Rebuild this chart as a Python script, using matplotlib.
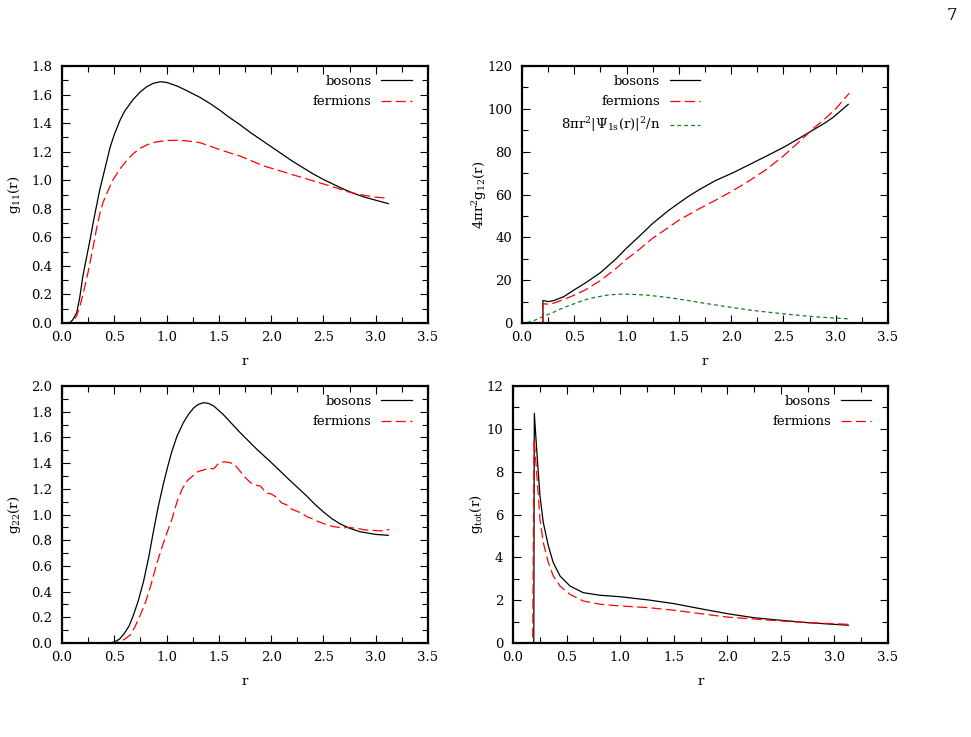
import matplotlib
matplotlib.use("Agg")
import matplotlib.pyplot as plt
from matplotlib.ticker import MultipleLocator, FormatStrFormatter

plt.rcParams['font.family'] = ['DejaVu Serif']
plt.rcParams['mathtext.fontset'] = 'custom'
plt.rcParams['mathtext.rm'] = 'DejaVu Serif'
plt.rcParams['mathtext.it'] = 'DejaVu Serif'
plt.rcParams['font.size'] = 9.5

# ---------------- data ----------------
# Panel 1: g11(r)
r11b = [0.0, 0.07, 0.1, 0.14, 0.17, 0.2, 0.235, 0.27, 0.3, 0.33, 0.36, 0.4, 0.43, 0.46, 0.5,
        0.555, 0.6, 0.68, 0.75, 0.81, 0.87, 0.94, 1.0, 1.1, 1.2, 1.32, 1.42, 1.51, 1.6, 1.7,
        1.8, 1.9, 2.0, 2.1, 2.2, 2.3, 2.4, 2.5, 2.6, 2.7, 2.8, 2.9, 3.0, 3.12]
g11_bos = [0.0, 0.0, 0.02, 0.07, 0.18, 0.33, 0.46, 0.59, 0.71, 0.82, 0.93, 1.05, 1.14, 1.23,
           1.32, 1.42, 1.485, 1.565, 1.62, 1.655, 1.678, 1.69, 1.685, 1.66, 1.625, 1.58, 1.535,
           1.49, 1.44, 1.39, 1.335, 1.285, 1.235, 1.185, 1.135, 1.09, 1.045, 1.005, 0.97,
           0.935, 0.905, 0.88, 0.86, 0.836]
r11f = [0.0, 0.07, 0.108, 0.14, 0.172, 0.2, 0.236, 0.27, 0.30, 0.33, 0.363, 0.395, 0.427, 0.46,
        0.49, 0.55, 0.62, 0.68, 0.75, 0.82, 0.9, 1.0, 1.1, 1.2, 1.32, 1.5, 1.61, 1.7, 1.93,
        2.245, 2.563, 2.754, 2.9, 3.0, 3.12]
g11_fer = [0.0, 0.0, 0.014, 0.05, 0.12, 0.2, 0.31, 0.43, 0.54, 0.66, 0.77, 0.85, 0.905, 0.96,
           1.005, 1.075, 1.14, 1.185, 1.225, 1.25, 1.268, 1.278, 1.28, 1.275, 1.263, 1.217,
           1.19, 1.17, 1.10, 1.03, 0.96, 0.915, 0.893, 0.882, 0.873]

# Panel 2: 4 pi r^2 g12(r)
r12b = [0.2, 0.2, 0.25, 0.3, 0.4, 0.5, 0.6, 0.75, 0.9, 1.0, 1.1, 1.25, 1.4, 1.5, 1.6, 1.7,
        1.85, 2.02, 2.34, 2.5, 2.66, 2.79, 2.9, 2.98, 3.12]
g12_bos = [0, 10.5, 10.0, 10.4, 12.3, 15.5, 18.5, 23.5, 30.0, 35.0, 39.5, 46.5, 52.5, 56.0,
           59.4, 62.4, 66.5, 70.2, 78.0, 82.0, 86.5, 90.3, 93.5, 96.2, 102.1]
r12f = [0.2, 0.2, 0.25, 0.3, 0.4, 0.5, 0.6, 0.75, 0.9, 1.0, 1.1, 1.25, 1.4, 1.5, 1.7, 1.85,
        2.0, 2.17, 2.34, 2.5, 2.66, 2.79, 2.9, 3.0, 3.13]
g12_fer = [0, 9.0, 8.8, 9.2, 11.0, 13.0, 15.3, 19.8, 25.5, 29.8, 33.5, 39.6, 44.6, 48.0, 53.5,
           57.3, 61.3, 66.3, 71.8, 78.0, 85.0, 91.0, 95.5, 100.0, 107.3]
r1s = [0.05, 0.1, 0.2, 0.3, 0.4, 0.5, 0.6, 0.7, 0.8, 0.9, 1.0, 1.2, 1.4, 1.6, 1.8, 2.0, 2.2,
       2.4, 2.6, 2.8, 3.0, 3.13]
psi1s = [0.2, 0.8, 3.0, 5.0, 7.2, 9.0, 10.8, 12.0, 12.9, 13.4, 13.5, 13.0, 11.9, 10.4, 8.8, 7.3,
         5.9, 4.8, 3.8, 2.9, 2.3, 1.9]

# Panel 3: g22(r)
r22b = [0.3, 0.45, 0.5, 0.55, 0.59, 0.64, 0.68, 0.73, 0.78, 0.83, 0.87, 0.92, 0.97, 1.01,
        1.05, 1.1, 1.16, 1.21, 1.26, 1.3, 1.35, 1.4, 1.45, 1.54, 1.62, 1.7, 1.78, 1.86, 1.94,
        2.02, 2.18, 2.34, 2.42, 2.5, 2.58, 2.66, 2.75, 2.85, 3.0, 3.12]
g22_bos = [0.0, 0.0, 0.008, 0.03, 0.068, 0.13, 0.21, 0.33, 0.48, 0.67, 0.85, 1.06, 1.24, 1.37,
           1.49, 1.61, 1.714, 1.78, 1.83, 1.855, 1.87, 1.865, 1.845, 1.78, 1.71, 1.64, 1.575,
           1.51, 1.45, 1.39, 1.265, 1.144, 1.078, 1.02, 0.968, 0.927, 0.893, 0.866, 0.845,
           0.838]
r22f = [0.45, 0.5, 0.55, 0.6, 0.65, 0.7, 0.75, 0.8, 0.85, 0.9, 0.95, 1.0, 1.05, 1.1, 1.15,
        1.2, 1.25, 1.3, 1.35, 1.4, 1.45, 1.5, 1.55, 1.6, 1.65, 1.7, 1.75, 1.8, 1.85, 1.9,
        1.95, 2.0, 2.05, 2.1, 2.15, 2.2, 2.25, 2.3, 2.35, 2.4, 2.45, 2.5, 2.55, 2.6, 2.65,
        2.7, 2.75, 2.8, 2.85, 2.9, 2.95, 3.0, 3.05, 3.1, 3.13]
g22_fer = [0.0, 0.0, 0.01, 0.03, 0.06, 0.13, 0.22, 0.32, 0.45, 0.60, 0.73, 0.85, 0.96, 1.10,
           1.20, 1.265, 1.30, 1.335, 1.345, 1.36, 1.355, 1.40, 1.41, 1.405, 1.39, 1.34, 1.29,
           1.25, 1.23, 1.22, 1.17, 1.16, 1.135, 1.09, 1.075, 1.04, 1.025, 1.005, 0.98, 0.965,
           0.945, 0.93, 0.915, 0.905, 0.90, 0.897, 0.90, 0.893, 0.888, 0.879, 0.878, 0.875,
           0.872, 0.885, 0.88]

# Panel 4: g_tot(r)
rtb = [0.1, 0.194, 0.199, 0.221, 0.252, 0.283, 0.33, 0.376, 0.439, 0.532, 0.656, 0.812, 1.0,
       1.263, 1.5, 1.75, 2.0, 2.25, 2.5, 2.75, 3.0, 3.13]
gtot_bos = [0.0, 0.0, 10.72, 9.04, 6.86, 5.62, 4.53, 3.75, 3.13, 2.66, 2.35, 2.23, 2.16, 2.01,
            1.84, 1.6, 1.37, 1.18, 1.06, 0.95, 0.87, 0.83]
rtf = [0.1, 0.184, 0.197, 0.221, 0.252, 0.283, 0.33, 0.376, 0.439, 0.532, 0.656, 0.812, 1.0,
       1.263, 1.5, 1.75, 2.0, 2.25, 2.5, 2.75, 3.0, 3.13]
gtot_fer = [0.0, 0.0, 9.51, 7.95, 5.77, 4.68, 3.75, 3.13, 2.66, 2.27, 1.96, 1.81, 1.73, 1.65,
            1.53, 1.37, 1.21, 1.12, 1.03, 0.95, 0.9, 0.87]

lab_bos = "bosons"
lab_fer = "fermions"
lab_psi = r"8$\pi$r$^2$|$\Psi_{1\mathrm{s}}$(r)|$^2$/n"

# ---------------- figure ----------------
W, H = 971, 737
fig = plt.figure(figsize=(W / 100, H / 100), dpi=100)


def mk_axes(x0, x1, y0, y1):
    return fig.add_axes([x0 / W, 1 - y1 / H, (x1 - x0) / W, (y1 - y0) / H])


ax1 = mk_axes(62, 428, 66, 323)
ax2 = mk_axes(522, 888, 66, 323)
ax3 = mk_axes(62, 428, 386, 643)
ax4 = mk_axes(513, 888, 386, 643)

bos_kw = dict(color='black', lw=0.9)
fer_kw = dict(color='#ff0000', lw=0.9, dashes=(8, 3.5))
psi_kw = dict(color='#1a7a1a', lw=0.9, dashes=(3, 2.5))

ax1.plot(r11b, g11_bos, label=lab_bos, **bos_kw)
ax1.plot(r11f, g11_fer, label=lab_fer, **fer_kw)
ax2.plot(r12b, g12_bos, label=lab_bos, **bos_kw)
ax2.plot(r12f, g12_fer, label=lab_fer, **fer_kw)
ax2.plot(r1s, psi1s, label=lab_psi, **psi_kw)
ax3.plot(r22b, g22_bos, label=lab_bos, **bos_kw)
ax3.plot(r22f, g22_fer, label=lab_fer, **fer_kw)
ax4.plot(rtb, gtot_bos, label=lab_bos, **bos_kw)
ax4.plot(rtf, gtot_fer, label=lab_fer, **fer_kw)

settings = [
    (ax1, (0, 1.8), 0.2, 0.1, '%.1f', r'g$_{11}$(r)', 6),
    (ax2, (0, 120), 20, 10, '%d', r'4$\pi$r$^2$g$_{12}$(r)', -1),
    (ax3, (0, 2.0), 0.2, 0.1, '%.1f', r'g$_{22}$(r)', 6),
    (ax4, (0, 12), 2, 1, '%d', r'g$_{tot}$(r)', 1),
]
for ax, ylim, ymaj, ymin, yfmt, ylab, lpad in settings:
    ax.set_xlim(0, 3.5)
    ax.set_ylim(*ylim)
    ax.xaxis.set_major_locator(MultipleLocator(0.5))
    ax.xaxis.set_minor_locator(MultipleLocator(0.25))
    ax.yaxis.set_major_locator(MultipleLocator(ymaj))
    ax.yaxis.set_minor_locator(MultipleLocator(ymin))
    ax.xaxis.set_major_formatter(FormatStrFormatter('%.1f'))
    ax.yaxis.set_major_formatter(FormatStrFormatter(yfmt))
    ax.tick_params(which='both', direction='in', top=True, right=True, width=0.8)
    ax.tick_params(which='major', length=5.5, labelsize=9.5)
    ax.tick_params(axis='x', which='major', pad=6)
    ax.tick_params(axis='y', which='major', pad=7)
    ax.tick_params(which='minor', length=4)
    for s in ax.spines.values():
        s.set_linewidth(1.6)
    ax.set_xlabel('r', fontsize=9.5, labelpad=8)
    ax.set_ylabel(ylab, fontsize=9.5, labelpad=lpad)

leg_kw = dict(frameon=False, markerfirst=False, handlelength=2.3, handletextpad=0.75,
              labelspacing=0.55, borderpad=0, borderaxespad=0, fontsize=9.5, loc='upper right')
ax1.legend(bbox_to_anchor=(0.955, 0.965), **leg_kw)
ax2.legend(bbox_to_anchor=(0.487, 0.965), **leg_kw)
ax3.legend(bbox_to_anchor=(0.955, 0.965), **leg_kw)
ax4.legend(bbox_to_anchor=(0.955, 0.965), **leg_kw)

fig.text(952 / W, 1 - 15 / H, '7', fontsize=12, ha='center', va='center')

fig.savefig('out.png', dpi=100)
